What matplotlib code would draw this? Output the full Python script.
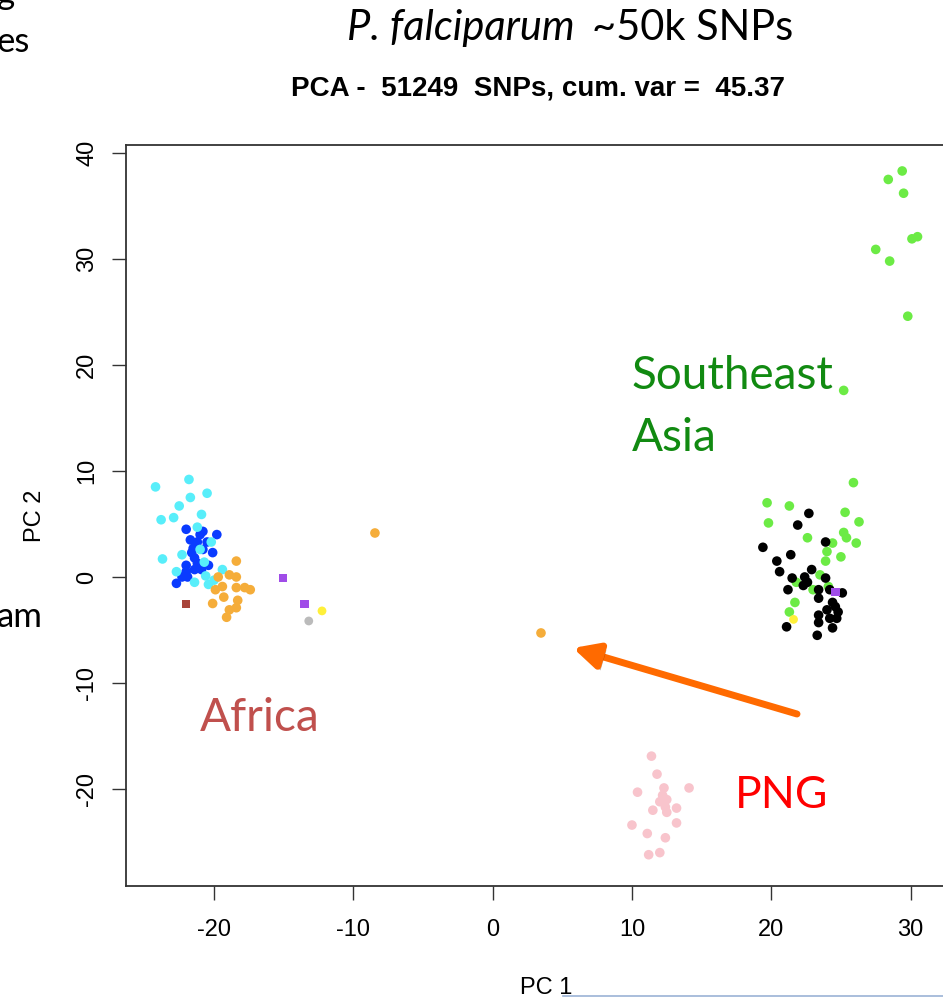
import matplotlib
matplotlib.use("Agg")
import matplotlib.pyplot as plt
import matplotlib.patheffects as pe
from matplotlib.lines import Line2D

# PCA coordinates (PC1, PC2), grouped by colour
cyan_x = [-24.2, -21.8, -20.5, -21.7, -22.5, -23.8, -22.9, -20.9, -21.2, -20.2,
          -23.7, -21.0, -20.7, -22.7, -21.4, -20.4, -19.4, -20.0, -20.6, -22.3]
cyan_y = [8.5, 9.2, 7.9, 7.5, 6.7, 5.4, 5.6, 5.9, 4.7, 3.3,
          1.7, 2.6, 1.4, 0.5, -0.5, -0.7, 0.7, -0.3, 0.1, 2.1]

blue_x = [-22.0, -20.8, -19.8, -21.7, -21.2, -20.5, -21.5, -20.8, -20.1, -21.4,
          -22.0, -21.2, -20.4, -22.0, -21.4, -21.9, -22.3, -22.7, -20.9, -21.6, -21.0]
blue_y = [4.5, 4.3, 4.0, 3.5, 3.3, 3.3, 2.7, 2.6, 2.3, 1.8,
          1.1, 1.3, 1.1, 0.5, 0.7, 0.0, 0.0, -0.6, 0.7, 2.3, 4.0]

orange_x = [-18.4, -19.7, -18.9, -18.4, -19.9, -19.4, -18.4, -17.4, -20.1, -19.3,
            -18.3, -18.9, -18.4, -19.1, -17.8, -8.45, 3.47]
orange_y = [1.5, 0.0, 0.2, 0.0, -1.2, -0.9, -1.0, -1.2, -2.5, -1.9,
            -2.2, -3.1, -2.9, -3.8, -1.0, 4.15, -5.28]

green_x = [25.9, 19.7, 21.3, 25.3, 26.3, 19.8, 22.6, 25.2, 25.4, 26.1,
           24.4, 24.0, 25.0, 23.9, 23.5, 21.8, 23.0, 24.1, 21.7, 21.3,
           29.4, 28.4, 29.5, 30.5, 30.1, 27.5, 28.5, 29.8, 25.2]
green_y = [8.9, 7.0, 6.7, 6.1, 5.2, 5.1, 3.7, 4.2, 3.7, 3.2,
           3.2, 2.4, 1.9, 1.5, 0.2, -0.5, -1.2, -0.9, -2.4, -3.3,
           38.3, 37.5, 36.2, 32.1, 31.9, 30.9, 29.8, 24.6, 17.6]

black_x = [22.7, 21.9, 19.4, 23.9, 21.4, 20.4, 20.6, 22.9, 21.5, 22.4,
           22.6, 23.9, 21.2, 23.4, 24.2, 25.1, 23.4, 24.4, 24.6, 24.0,
           24.8, 23.4, 24.2, 24.7, 23.4, 21.1, 24.4, 23.3, 22.3]
black_y = [6.0, 4.9, 2.8, 3.3, 2.1, 1.5, 0.5, 0.7, -0.1, 0.0,
           -0.5, -0.1, -1.2, -1.2, -1.2, -1.5, -2.0, -2.4, -2.8, -3.1,
           -3.3, -3.6, -3.9, -3.9, -4.3, -4.7, -4.8, -5.5, -0.8]

pink_x = [11.4, 11.8, 10.4, 12.3, 12.2, 12.2, 12.5, 12.0, 12.4, 11.5,
          12.5, 13.2, 13.2, 10.0, 11.1, 12.4, 11.2, 12.0, 14.1]
pink_y = [-16.9, -18.6, -20.3, -19.9, -20.6, -21.2, -21.0, -21.2, -21.7, -22.0,
          -22.2, -21.8, -23.2, -23.4, -24.2, -24.6, -26.2, -26.0, -19.9]

purple_x = [-15.05, -13.5, 24.6]
purple_y = [-0.1, -2.55, -1.4]
yellow_x = [-12.25, 21.6]
yellow_y = [-3.2, -4.0]
gray_x = [-13.2]
gray_y = [-4.15]
brown_x = [-22.0]
brown_y = [-2.55]

xticks = [-20, -10, 0, 10, 20, 30]
yticks = [-20, -10, 0, 10, 20, 30, 40]

rfont = ['Liberation Sans Narrow', 'Liberation Sans']
slide_font = ['Lato', 'DejaVu Sans']

fig = plt.figure(figsize=(9.43, 10), dpi=100)
ax = fig.add_axes([126 / 943, 114 / 1000, 840 / 943, 741 / 1000])

ms = 48
ax.scatter(green_x, green_y, s=ms, c='#6CEB45', edgecolors='none')
ax.scatter(black_x, black_y, s=ms, c='black', edgecolors='none')
ax.scatter(blue_x, blue_y, s=ms, c='#0A3BFF', edgecolors='none')
ax.scatter(cyan_x, cyan_y, s=ms, c='#58EEFA', edgecolors='none')
ax.scatter(orange_x, orange_y, s=ms, c='#F5AD3A', edgecolors='none')
ax.scatter(pink_x, pink_y, s=ms, c='#F8C4CC', edgecolors='none')
ax.scatter(purple_x, purple_y, s=36, c='#A04CE8', edgecolors='none', marker='s')
ax.scatter(yellow_x, yellow_y, s=40, c='#FFF03A', edgecolors='none')
ax.scatter(gray_x, gray_y, s=40, c='#BBBBBB', edgecolors='none')
ax.scatter(brown_x, brown_y, s=34, c='#A8443A', edgecolors='none', marker='s')

ax.set_xlim(-26.32, 33.98)
ax.set_ylim(-29.15, 40.75)
ax.set_xticks(xticks)
ax.set_yticks(yticks)
ax.set_xticklabels([str(t) for t in xticks], family=rfont, fontsize=17)
ax.set_yticklabels([str(t) for t in yticks], family=rfont, fontsize=17,
                   rotation=90, va='center')
ax.tick_params(direction='out', length=10, width=1, color='#333333', pad=14)
ax.tick_params(axis='y', pad=10)
for sp in ax.spines.values():
    sp.set_color('#333333')
    sp.set_linewidth(1.3)
ax.set_xlabel('PC 1', family=rfont, fontsize=17, labelpad=26)
ax.set_ylabel('PC 2', family=rfont, fontsize=17, labelpad=22)

# titles
fig.text(575 / 943, 1 - 28 / 1000, 'P. falciparum', family=slide_font, style='italic',
         fontsize=30, ha='right', va='center')
fig.text(592 / 943, 1 - 28 / 1000, '~50k SNPs', family=slide_font,
         fontsize=30, ha='left', va='center')
fig.text(538 / 943, 1 - 88 / 1000, 'PCA -  51249  SNPs, cum. var =  45.37',
         family=rfont, fontweight='bold', fontsize=20, ha='center', va='center')

# region labels
fig.text(632 / 943, 1 - 376 / 1000, 'Southeast', family=slide_font, fontsize=33,
         color='#118A11', ha='left', va='center')
fig.text(632 / 943, 1 - 438 / 1000, 'Asia', family=slide_font, fontsize=33,
         color='#118A11', ha='left', va='center')
fig.text(200 / 943, 1 - 718 / 1000, 'Africa', family=slide_font, fontsize=33,
         color='#C0504D', ha='left', va='center')
fig.text(735 / 943, 1 - 795 / 1000, 'PNG', family=slide_font, fontsize=32,
         color='#FF0000', ha='left', va='center')

# arrow pointing at the orange outlier
arr = ax.annotate('', xy=(573, 1000 - 648), xycoords='figure pixels',
                  xytext=(797, 1000 - 714), textcoords='figure pixels',
                  arrowprops=dict(arrowstyle='-|>', color='#FF6A00', lw=5,
                                  mutation_scale=38, shrinkA=0, shrinkB=0))
arr.arrow_patch.set_path_effects([pe.SimplePatchShadow(offset=(2, -3), alpha=0.35),
                                  pe.Normal()])

# bits of neighbouring slide text cut off at the left edge
fig.text(-3 / 943, 1 + 6 / 1000, 'g', family=slide_font, fontsize=25, ha='left', va='center')
fig.text(-4 / 943, 1 - 42 / 1000, 'es', family=slide_font, fontsize=25, ha='left', va='center')
fig.text(-3 / 943, 1 - 617 / 1000, 'am', family=slide_font, fontsize=25, ha='left', va='center')
fig.add_artist(Line2D([563 / 943, 1], [4 / 1000, 4 / 1000], color='#9BB3D6', lw=1.2))

fig.savefig('out.png', dpi=100)
